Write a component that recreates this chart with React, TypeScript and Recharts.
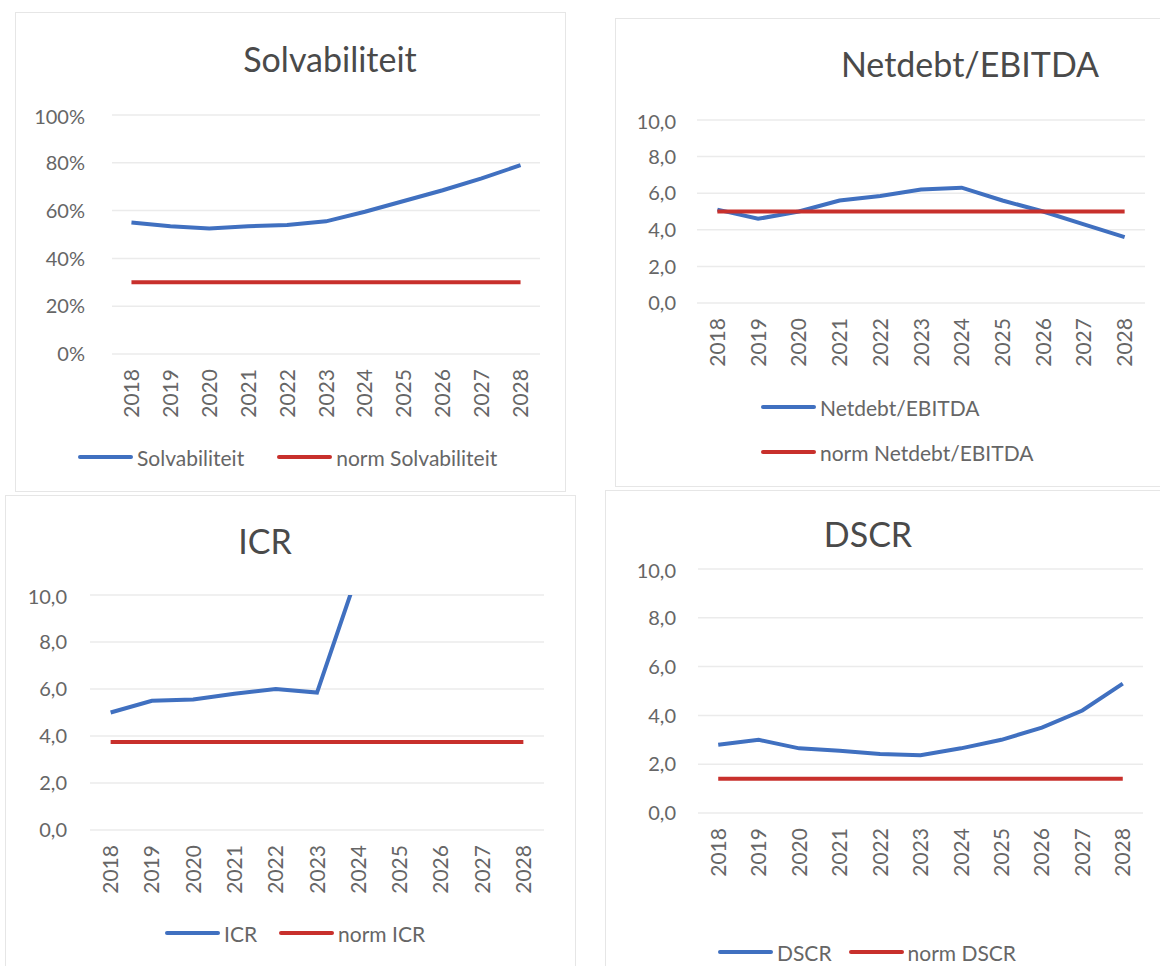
import { CartesianGrid, Legend, Line, LineChart, XAxis, YAxis } from "recharts";

const FONT = "Lato, 'Open Sans', sans-serif";
const BLUE = "#4070c0";
const RED = "#c8302c";
const TEXT = "#666666";

const years = ["2018", "2019", "2020", "2021", "2022", "2023", "2024", "2025", "2026", "2027", "2028"];

const solvabiliteit = [55, 53.5, 52.5, 53.5, 54, 55.5, 59.5, 64, 68.5, 73.5, 79];
const normSolvabiliteit = [30, 30, 30, 30, 30, 30, 30, 30, 30, 30, 30];

const netdebtEbitda = [5.1, 4.6, 5.0, 5.6, 5.85, 6.2, 6.3, 5.6, 5.0, 4.3, 3.6];
const normNetdebtEbitda = [5, 5, 5, 5, 5, 5, 5, 5, 5, 5, 5];

// 2024 runs off the top of the chart, later years are not visible
const icr = [5.0, 5.5, 5.55, 5.8, 6.0, 5.85, 11, null, null, null, null];
const normIcr = [3.75, 3.75, 3.75, 3.75, 3.75, 3.75, 3.75, 3.75, 3.75, 3.75, 3.75];

const dscr = [2.8, 3.0, 2.65, 2.55, 2.42, 2.37, 2.65, 3.0, 3.5, 4.2, 5.3];
const normDscr = [1.4, 1.4, 1.4, 1.4, 1.4, 1.4, 1.4, 1.4, 1.4, 1.4, 1.4];

const pctTicks = [0, 20, 40, 60, 80, 100];
const ratioTicks = [0, 2, 4, 6, 8, 10];

const toRows = (vals: (number | null)[], norm: number[]) =>
  years.map((year, i) => ({ year, value: vals[i], norm: norm[i] }));

const fmtPct = (v: number) => `${v}%`;
const fmtRatio = (v: number) => v.toFixed(1).replace(".", ",");

const YearTick = (props: any) => {
  const { x, y, payload } = props;
  const ty = y + 15;
  return (
    <text
      x={x}
      y={ty}
      transform={`rotate(-90, ${x}, ${ty})`}
      textAnchor="end"
      dy="0.36em"
      fill={TEXT}
      fontSize={21}
      fontFamily={FONT}
    >
      {payload.value}
    </text>
  );
};

type LegendCfg = {
  x: number; // absolute x of first swatch
  y: number; // absolute y of first row centre
  gap: number;
  vertical?: boolean;
  rowH?: number;
};

type PanelProps = {
  title: string;
  titleX: number;
  titleY: number;
  rows: any[];
  seriesName: string;
  normName: string;
  plot: { x0: number; x1: number; y0: number; y1: number };
  domain: [number, number];
  ticks: number[];
  fmt: (v: number) => string;
  yGap: number;
  legend: LegendCfg;
};

const Y_W = 80;
const X_H = 70;
const M_TOP = 10;
const M_RIGHT = 10;

const Panel = ({ title, titleX, titleY, rows, seriesName, normName, plot, domain, ticks, fmt, yGap, legend }: PanelProps) => {
  const left = plot.x0 - Y_W;
  const top = plot.y0 - M_TOP;
  const width = plot.x1 - plot.x0 + Y_W + M_RIGHT;
  const rowH = legend.rowH ?? 40;
  const legendTop = plot.y1 + X_H;
  const nRows = legend.vertical ? 2 : 1;
  const legendH = legend.y - legendTop + rowH / 2 + (nRows - 1) * rowH;
  const height = M_TOP + (plot.y1 - plot.y0) + X_H + legendH;
  const band = (plot.x1 - plot.x0) / years.length;

  const renderLegend = (p: any) => {
    const items = (p.payload || []) as any[];
    const item = (e: any) => (
      <div key={e.value} style={{ display: "flex", alignItems: "center", height: rowH }}>
        <div style={{ width: 55, height: 4, background: e.color, marginRight: 4, borderRadius: 2 }} />
        <span style={{ fontSize: 21, color: TEXT, fontFamily: FONT, whiteSpace: "nowrap" }}>{e.value}</span>
      </div>
    );
    return (
      <div style={{ height: legendH, position: "relative" }}>
        <div
          style={{
            position: "absolute",
            left: legend.x - left,
            top: legend.y - legendTop - rowH / 2,
            display: "flex",
            flexDirection: legend.vertical ? "column" : "row",
            columnGap: legend.gap,
          }}
        >
          {items.map(item)}
        </div>
      </div>
    );
  };

  return (
    <>
      <div
        style={{
          position: "absolute",
          left: titleX,
          top: titleY,
          transform: "translate(-50%, -50%)",
          fontFamily: FONT,
          fontSize: 34,
          color: "#4a4a4a",
          whiteSpace: "nowrap",
        }}
      >
        {title}
      </div>
      <div style={{ position: "absolute", left, top }}>
        <LineChart width={width} height={height} data={rows} margin={{ top: M_TOP, right: M_RIGHT, left: 0, bottom: 0 }}>
          <CartesianGrid vertical={false} stroke="#ebebeb" strokeWidth={1.5} />
          <XAxis
            dataKey="year"
            axisLine={false}
            tickLine={false}
            tickSize={0}
            tickMargin={0}
            height={X_H}
            interval={0}
            padding={{ left: band / 2, right: band / 2 }}
            tick={<YearTick />}
          />
          <YAxis
            width={Y_W}
            domain={domain}
            ticks={ticks}
            allowDataOverflow
            axisLine={false}
            tickLine={false}
            tickSize={0}
            tickMargin={yGap}
            tickFormatter={fmt}
            tick={{ fill: TEXT, fontSize: 20, fontFamily: FONT }}
          />
          <Legend verticalAlign="bottom" wrapperStyle={{ left: 0, width }} content={renderLegend} />
          <Line
            type="linear"
            dataKey="value"
            name={seriesName}
            stroke={BLUE}
            strokeWidth={4}
            dot={false}
            isAnimationActive={false}
          />
          <Line
            type="linear"
            dataKey="norm"
            name={normName}
            stroke={RED}
            strokeWidth={4}
            dot={false}
            isAnimationActive={false}
          />
        </LineChart>
      </div>
    </>
  );
};

const Frame = ({ l, t, r, b }: { l: number; t: number; r: number; b: number }) => (
  <div
    style={{
      position: "absolute",
      left: l,
      top: t,
      width: r - l,
      height: b - t,
      border: "1px solid #e6e6e6",
      boxSizing: "border-box",
    }}
  />
);

export default function App() {
  return (
    <div
      style={{
        position: "absolute",
        left: 0,
        top: 0,
        width: 1160,
        height: 966,
        overflow: "hidden",
        background: "#ffffff",
      }}
    >
      <Frame l={15} t={12} r={566} b={492} />
      <Frame l={615} t={18} r={1170} b={487} />
      <Frame l={5} t={495} r={576} b={980} />
      <Frame l={605} t={490} r={1170} b={980} />

      <Panel
        title="Solvabiliteit"
        titleX={330}
        titleY={58}
        rows={toRows(solvabiliteit, normSolvabiliteit)}
        seriesName="Solvabiliteit"
        normName="norm Solvabiliteit"
        plot={{ x0: 112, x1: 540, y0: 115, y1: 354 }}
        domain={[0, 100]}
        ticks={pctTicks}
        fmt={fmtPct}
        yGap={27}
        legend={{ x: 78, y: 457, gap: 33 }}
      />
      <Panel
        title="Netdebt/EBITDA"
        titleX={970}
        titleY={63}
        rows={toRows(netdebtEbitda, normNetdebtEbitda)}
        seriesName="Netdebt/EBITDA"
        normName="norm Netdebt/EBITDA"
        plot={{ x0: 697, x1: 1145, y0: 120, y1: 303 }}
        domain={[0, 10]}
        ticks={ratioTicks}
        fmt={fmtRatio}
        yGap={21}
        legend={{ x: 761, y: 407, gap: 0, vertical: true, rowH: 45 }}
      />
      <Panel
        title="ICR"
        titleX={265}
        titleY={540}
        rows={toRows(icr, normIcr)}
        seriesName="ICR"
        normName="norm ICR"
        plot={{ x0: 90, x1: 544, y0: 595, y1: 830 }}
        domain={[0, 10]}
        ticks={ratioTicks}
        fmt={fmtRatio}
        yGap={23}
        legend={{ x: 165, y: 933, gap: 22 }}
      />
      <Panel
        title="DSCR"
        titleX={868}
        titleY={533}
        rows={toRows(dscr, normDscr)}
        seriesName="DSCR"
        normName="norm DSCR"
        plot={{ x0: 698, x1: 1143, y0: 569, y1: 813 }}
        domain={[0, 10]}
        ticks={ratioTicks}
        fmt={fmtRatio}
        yGap={22}
        legend={{ x: 718, y: 952, gap: 17 }}
      />
    </div>
  );
}
